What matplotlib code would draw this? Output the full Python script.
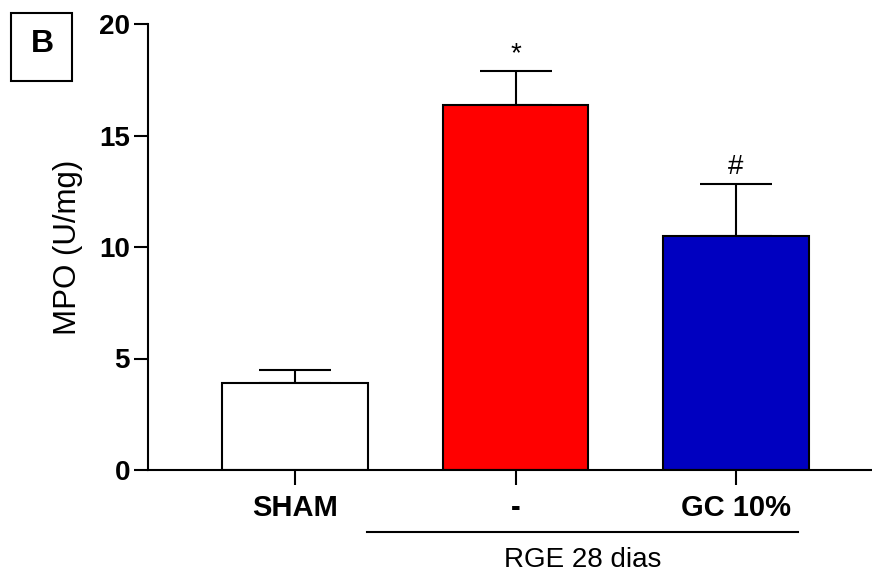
import matplotlib
matplotlib.use('Agg')
import matplotlib.pyplot as plt
from matplotlib.patches import Rectangle

groups = ['SHAM', '-', 'GC 10%']
means = [3.88, 16.37, 10.5]
errs = [0.6, 1.52, 2.33]
colors = ['#FFFFFF', '#FF0000', '#0000C0']
marks = ['', '*', '#']

plt.rcParams['font.family'] = ['Liberation Sans', 'DejaVu Sans']

fig = plt.figure(figsize=(8.72, 5.73), dpi=100)
ax = fig.add_axes([148 / 872, 1 - 470 / 573, 1 - 148 / 872, (470 - 24) / 573])

x = list(range(len(groups)))
ax.bar(x, means, width=0.66, color=colors, edgecolor='black', linewidth=1.5, zorder=2)
ax.errorbar(x, means, yerr=[[0] * len(errs), errs], fmt='none', ecolor='black',
            elinewidth=1.5, capsize=26, capthick=1.5, zorder=1)

for xi, m, e, s in zip(x, means, errs, marks):
    if s:
        ax.annotate(s, (xi, m + e), xytext=(0, 3), textcoords='offset points',
                    ha='center', va='bottom', fontsize=20)

ax.set_xlim(-0.667, 2.617)
ax.set_ylim(0, 20)
ax.set_yticks([0, 5, 10, 15, 20])
ax.set_xticks(x)
ax.set_xticklabels(groups)
for lab in ax.get_xticklabels():
    lab.set_fontweight('bold')
    lab.set_fontsize(21)
for lab in ax.get_yticklabels():
    lab.set_fontweight('bold')
    lab.set_fontsize(20)

ax.spines['top'].set_visible(False)
ax.spines['right'].set_visible(False)
ax.spines['left'].set_linewidth(1.5)
ax.spines['bottom'].set_linewidth(1.5)
ax.tick_params(axis='y', length=10, width=1.5, pad=3)
ax.tick_params(axis='x', length=11, width=1.5, pad=6)

ax.set_ylabel('MPO (U/mg)', fontsize=22.5)
ax.yaxis.set_label_coords(-0.09, 0.5)

# group line under the RGE bars
tr = ax.get_xaxis_transform()
ax.plot([0.327, 2.28], [-0.139, -0.139], color='black', linewidth=1.5,
        transform=tr, clip_on=False)
ax.text(1.305, -0.2175, 'RGE 28 dias', transform=tr, ha='center', va='baseline', fontsize=20)

# panel letter
fig.patches.append(Rectangle((11 / 872, 1 - 81 / 573), 61 / 872, 68 / 573,
                             transform=fig.transFigure, fill=False,
                             edgecolor='black', linewidth=1.5))
fig.text(42 / 872, 1 - 44 / 573, 'B', ha='center', va='center',
         fontsize=23, fontweight='bold')

fig.savefig('out.png', dpi=100)
